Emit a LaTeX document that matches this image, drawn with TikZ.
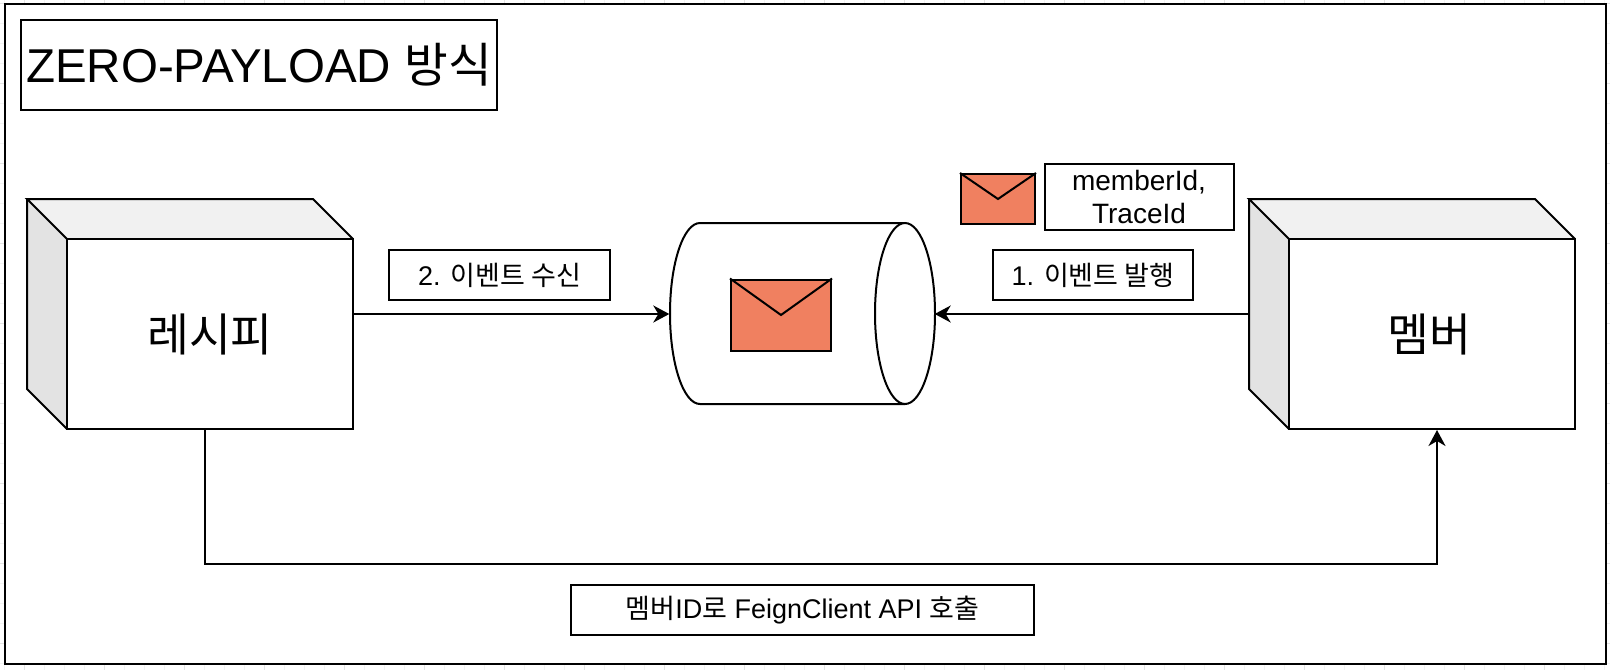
\documentclass[tikz,border=0pt]{standalone}
\usepackage{fontspec}
\setmainfont{Liberation Sans}
\newfontfamily\kor{Noto Sans CJK KR}
\usetikzlibrary{arrows.meta}
\definecolor{mail}{HTML}{F08060}
\definecolor{sideface}{HTML}{E3E3E3}
\definecolor{topface}{HTML}{F1F1F1}
\definecolor{gridminor}{HTML}{F3F3F3}
\definecolor{gridmajor}{HTML}{E4E4E4}
\tikzset{
  ln/.style={draw=black,line width=2pt},
  labelbox/.style={ln,fill=white,inner sep=0pt,align=center,font=\fontsize{28}{33}\selectfont},
  smallbox/.style={labelbox,font=\fontsize{27}{32}\selectfont},
  face/.style={ln,fill=white,inner sep=0pt,align=center,font=\kor\fontsize{45.5}{52}\selectfont},
  conn/.style={ln,-{Stealth[length=16pt,width=17pt,inset=5pt]}},
  envbox/.style={ln,fill=mail,inner sep=0pt},
  cubeedge/.style={ln,line join=miter}
}
\begin{document}
\begin{tikzpicture}[x=1pt,y=-1pt]
\useasboundingbox (0,0) rectangle (1610,670);
\fill[white] (0,0) rectangle (1610,670);
% faint page grid behind the frame
\foreach \g in {0,...,80}{\draw[gridminor,line width=.8pt] ({4+20*\g},0) -- ({4+20*\g},670);}
\foreach \g in {0,...,33}{\draw[gridminor,line width=.8pt] (0,{3+20*\g}) -- (1610,{3+20*\g});}
\foreach \g in {0,...,20}{\draw[gridmajor,line width=.8pt] ({24+80*\g},0) -- ({24+80*\g},670);}
\foreach \g in {0,...,8}{\draw[gridmajor,line width=.8pt] (0,{3+80*\g}) -- (1610,{3+80*\g});}
\node[ln,fill=white,inner sep=0pt,minimum width=1601pt,minimum height=660pt] (frame) at (805.5,334) {};
\node[ln,fill=white,inner sep=0pt,minimum width=476pt,minimum height=90pt,font=\fontsize{47.5}{56}\selectfont] (title) at (259,65) {ZERO-PAYLOAD {\kor 방식}};

% left cube
\fill[sideface] (27,199) -- (67,239) -- (67,429) -- (27,389) -- cycle;
\fill[topface] (27,199) -- (313,199) -- (353,239) -- (67,239) -- cycle;
\draw[cubeedge] (67,239) -- (27,199) -- (313,199) -- (353,239);
\draw[cubeedge] (27,199) -- (27,389) -- (67,429);
\node[face,minimum width=286pt,minimum height=190pt] (recipe) at (210,334) {레시피};

% right cube
\fill[sideface] (1249,199) -- (1289,239) -- (1289,429) -- (1249,389) -- cycle;
\fill[topface] (1249,199) -- (1535,199) -- (1575,239) -- (1289,239) -- cycle;
\draw[cubeedge] (1289,239) -- (1249,199) -- (1535,199) -- (1575,239);
\draw[cubeedge] (1249,199) -- (1249,389) -- (1289,429);
\node[face,minimum width=286pt,minimum height=190pt] (member) at (1432,334) {\hspace*{-6pt}멤버};

% queue cylinder
\node[inner sep=0pt,minimum width=265pt,minimum height=181pt] (queue) at (802,313.5) {};
\draw[ln,fill=white] (905,223) -- (700,223) .. controls (683.4,223) and (670,263.5) .. (670,313.5)
  .. controls (670,363.5) and (683.4,404) .. (700,404) -- (905,404);
\draw[ln,fill=white] (905,313.5) ellipse [x radius=30,y radius=90.5];

% envelopes
\node[envbox,minimum width=100pt,minimum height=71pt] (bigmail) at (781,315) {};
\coordinate (bigtip) at (781,315);
\draw[ln] (bigmail.north west) -- (bigtip) -- (bigmail.north east);
\node[envbox,minimum width=74pt,minimum height=50pt] (smallmail) at (998,199) {};
\coordinate (smalltip) at (998,199);
\draw[ln] (smallmail.north west) -- (smalltip) -- (smallmail.north east);

% labels
\node[labelbox,minimum width=189pt,minimum height=66pt] (ids) at (1139,197) {memberId,\\TraceId};
\node[smallbox,minimum width=200pt,minimum height=50pt] (pub) at (1093,275) {1. {\kor 이벤트 발행}};
\node[smallbox,minimum width=221pt,minimum height=50pt] (sub) at (499.5,275) {2. {\kor 이벤트 수신}};
\node[smallbox,minimum width=463pt,minimum height=50pt] (call) at (802.5,610) {{\kor 멤버}ID{\kor 로} FeignClient API {\kor 호출}};

% connectors
\coordinate (recipeport) at (recipe.east |- 0,314);
\coordinate (memberport) at (1249,314);
\draw[conn] (recipeport) -- (queue.west |- recipeport);
\draw[conn] (memberport) -- (queue.east |- memberport);
\coordinate (bendA) at (205,564);
\coordinate (bendB) at (1437,564);
\draw[conn] (bendA |- recipe.south) -- (bendA) -- (bendB) -- (bendB |- member.south);
\end{tikzpicture}
\end{document}
